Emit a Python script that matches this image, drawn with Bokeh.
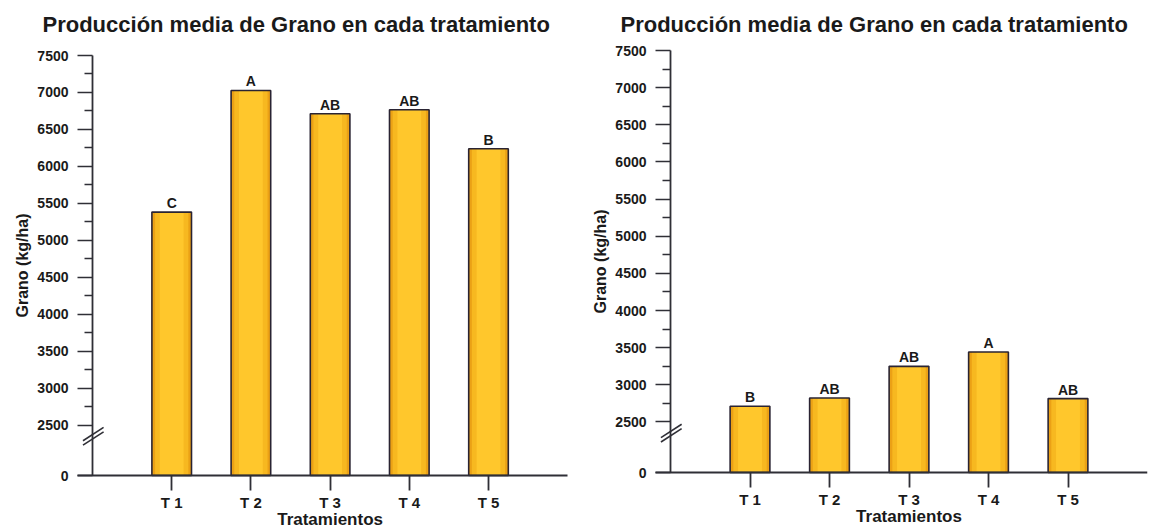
import math
from bokeh.plotting import figure
from bokeh.layouts import row
from bokeh.models import (LinearAxis, FixedTicker, Range1d, ColumnDataSource,
                          LabelSet, Label)
from bokeh.core.properties import value
from bokeh.embed import file_html
from bokeh.resources import INLINE

# ---------------- data ----------------
categories = ["T 1", "T 2", "T 3", "T 4", "T 5"]
grano_izq = [5382, 7027, 6712, 6766, 6239]
letras_izq = ["C", "A", "AB", "AB", "B"]
grano_der = [2711, 2823, 3249, 3442, 2815]
letras_der = ["B", "AB", "AB", "A", "AB"]
y_tick_values = [0, 2500, 3000, 3500, 4000, 4500, 5000, 5500, 6000, 6500, 7000, 7500]
y_tick_labels = ["0", "2500", "3000", "3500", "4000", "4500", "5000", "5500",
                 "6000", "6500", "7000", "7500"]
titulo = "Producción media de Grano en cada tratamiento"
x_label = "Tratamientos"
y_label = "Grano (kg/ha)"

# broken axis: 0 .. BREAK compressed into GAP units
BREAK = 2500
GAP = 680
YMAX = 7500

FONT = "Liberation Sans"
AXIS_COL = "#2f2f36"
BAR_EDGE = "#2a2433"
TXT = "#1a1a1a"
H = 530
TOP_BORDER = 16
RIGHT_BORDER = 4


def tr(v):
    return int(round(v * GAP / BREAK)) if v < BREAK else int(GAP + (v - BREAK))


def make_panel(vals, letters, fig_left, width, x0_px, px_per_x, y0_px, ytop_px,
               title_left_px):
    ytop = tr(YMAX)
    ppu = (y0_px - ytop_px) / ytop                       # pixels per y unit
    frame_l, frame_r = fig_left, fig_left + width - RIGHT_BORDER

    def px(page_x):
        return (page_x - x0_px) / px_per_x

    def py(page_y):
        return (y0_px - page_y) / ppu

    xs = [i + 1 for i in range(len(categories))]
    tops = [tr(v) for v in vals]
    src = ColumnDataSource(dict(x=xs, top=tops, letter=letters))

    p = figure(width=width, height=H, output_backend="svg", toolbar_location=None,
               x_range=Range1d(px(frame_l), px(frame_r)),
               y_range=Range1d(py(H), py(TOP_BORDER)),
               x_axis_location=None, y_axis_location=None,
               min_border_left=0, min_border_right=RIGHT_BORDER,
               min_border_top=TOP_BORDER, min_border_bottom=0)
    p.outline_line_color = None
    p.background_fill_color = "white"
    p.border_fill_color = "white"
    p.xgrid.visible = False
    p.ygrid.visible = False

    # bars with a soft horizontal gradient
    p.vbar(x="x", top="top", bottom=0, width=0.5, source=src,
           fill_color="#EBA116", line_color=None)
    p.vbar(x="x", top="top", bottom=0, width=0.42, source=src,
           fill_color="#F7B820", line_color=None)
    p.vbar(x="x", top="top", bottom=0, width=0.30, source=src,
           fill_color="#FFC72C", line_color=None)
    p.vbar(x="x", top="top", bottom=0, width=0.5, source=src,
           fill_color=None, line_color=BAR_EDGE, line_width=1.6)

    # significance letters
    p.text(x="x", y="top", text="letter", source=src, text_align="center",
           text_baseline="bottom", y_offset=-1, text_font=value(FONT),
           text_font_size="14px", text_font_style="bold", text_color=TXT)

    # x axis line + ticks, at y = 0 (ticks pointing down)
    xa = LinearAxis(fixed_location=0, bounds=(px(x0_px - 0.19 * px_per_x), 6.0))
    xa.ticker = FixedTicker(ticks=xs, minor_ticks=[])
    xa.major_label_overrides = {x: "" for x in xs}
    xa.major_label_text_font_size = "10px"
    xa.major_label_standoff = 0
    xa.axis_line_color = AXIS_COL
    xa.axis_line_width = 1.8
    xa.major_tick_line_color = AXIS_COL
    xa.major_tick_line_width = 1.8
    xa.major_tick_in = 15
    xa.major_tick_out = 0
    xa.minor_tick_line_color = None
    p.add_layout(xa, "above")

    # y axis line + ticks, at x = 0 (ticks pointing left)
    major = [tr(v) for v in y_tick_values]
    minor = [tr(v + 250) for v in y_tick_values if BREAK <= v < YMAX]
    ya = LinearAxis(fixed_location=0, bounds=(0, ytop))
    ya.ticker = FixedTicker(ticks=major, minor_ticks=minor)
    ya.major_label_overrides = {t: "" for t in major}
    ya.major_label_text_font_size = "10px"
    ya.major_label_standoff = 0
    ya.axis_line_color = AXIS_COL
    ya.axis_line_width = 1.8
    ya.major_tick_line_color = AXIS_COL
    ya.major_tick_line_width = 1.6
    ya.major_tick_in = 15
    ya.major_tick_out = 0
    ya.minor_tick_line_color = AXIS_COL
    ya.minor_tick_line_width = 1.4
    ya.minor_tick_in = 8
    ya.minor_tick_out = 0
    p.add_layout(ya, "right")

    # y tick labels and y axis title
    ysrc = ColumnDataSource(dict(x=[0] * len(major), y=major, t=y_tick_labels))
    p.add_layout(LabelSet(x="x", y="y", text="t", source=ysrc, x_offset=-24,
                          text_align="right", text_baseline="middle",
                          text_font=value(FONT), text_font_size="14px",
                          text_font_style="bold", text_color=TXT))
    p.add_layout(Label(x=0, y=ytop / 2, text=y_label, x_offset=-70,
                       angle=math.pi / 2, text_align="center",
                       text_baseline="middle", text_font=FONT,
                       text_font_size="16px", text_font_style="bold",
                       text_color=TXT))

    # x tick labels and x axis title
    xsrc = ColumnDataSource(dict(x=xs, y=[py(y0_px + 32)] * len(xs), t=categories))
    p.add_layout(LabelSet(x="x", y="y", text="t", source=xsrc,
                          text_align="center", text_baseline="alphabetic",
                          text_font=value(FONT), text_font_size="15px",
                          text_font_style="bold", text_color=TXT))
    p.add_layout(Label(x=3.0, y=py(y0_px + 44), text=x_label,
                       text_align="center", text_baseline="alphabetic",
                       text_font=FONT, text_font_size="17px",
                       text_font_style="bold", text_color=TXT))

    # title
    p.add_layout(Label(x=px(title_left_px), y=py(24), text=titulo,
                       text_align="left", text_baseline="alphabetic",
                       text_font=FONT, text_font_size="22px",
                       text_font_style="bold", text_color=TXT))

    # axis break marks "//"
    bx0, bx1 = -0.12, 0.14
    for yc in (GAP - 120, GAP - 180):
        p.segment(x0=[bx0], y0=[yc - 90], x1=[bx1], y1=[yc + 90],
                  line_color=AXIS_COL, line_width=1.6)
    return p


# layout constants (page pixels): figure left, width, x of y axis, px per category,
# y of zero line, y of 7500, title left edge
left = make_panel(grano_izq, letras_izq, 0, 576, 92, 79.2, 475, 55, 42)
right = make_panel(grano_der, letras_der, 576, 575, 670, 79.5, 472, 50, 620)

layout = row(left, right)
open("out.html", "w").write(file_html(layout, INLINE))
